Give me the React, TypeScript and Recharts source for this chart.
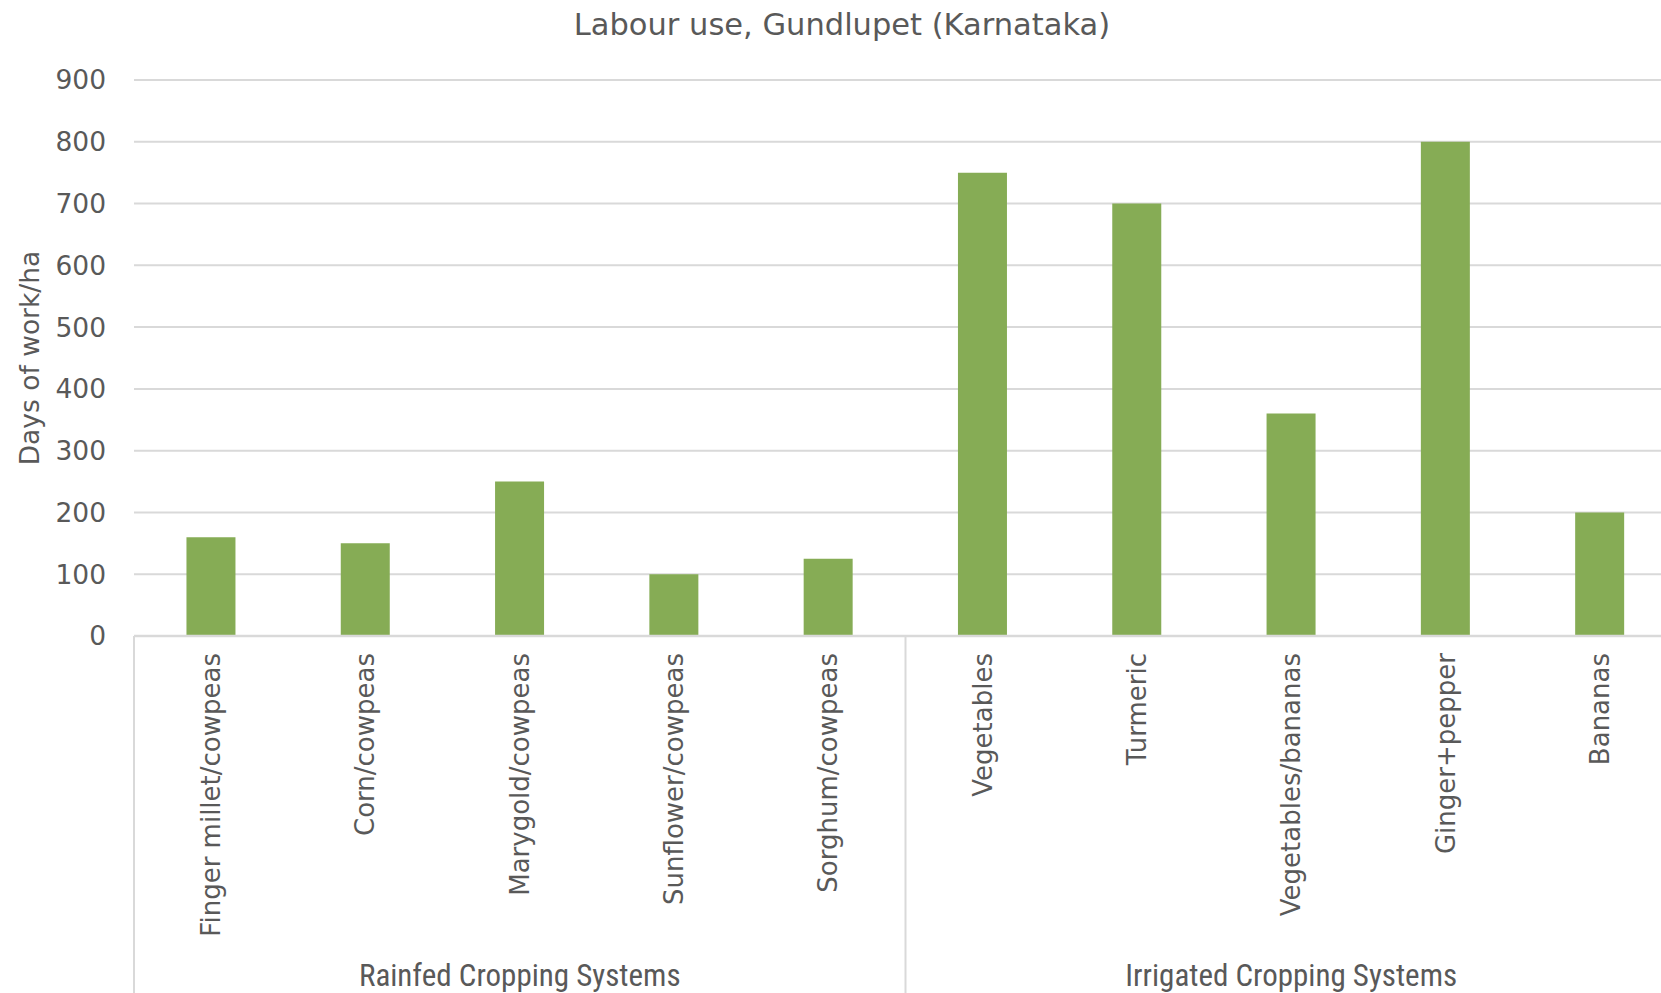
import React from "react";
import { BarChart, Bar, XAxis, YAxis, CartesianGrid } from "recharts";

const categories = [
  "Finger millet/cowpeas",
  "Corn/cowpeas",
  "Marygold/cowpeas",
  "Sunflower/cowpeas",
  "Sorghum/cowpeas",
  "Vegetables",
  "Turmeric",
  "Vegetables/bananas",
  "Ginger+pepper",
  "Bananas",
];
const labourDays = [160, 150, 250, 100, 125, 750, 700, 360, 800, 200];
const groupNames = ["Rainfed Cropping Systems", "Irrigated Cropping Systems"];
const groupStart = [0, 5];
const groupSize = [5, 5];
const yTicks = [0, 100, 200, 300, 400, 500, 600, 700, 800, 900];

const data = categories.map((c, i) => ({ name: c, value: labourDays[i] }));

const TEXT = "#595959";
const GRID = "#d9d9d9";
const FONT = "'DejaVu Sans', sans-serif";

const CHART_W = 1700;
const CHART_H = 993;

const CategoryTick = (props: any) => {
  const { x, y, payload, index } = props;
  const half = payload && payload.offset ? payload.offset : 77;
  const bottom = CHART_H;
  const els: any[] = [];
  const gi = groupStart.indexOf(index);
  if (gi >= 0) {
    els.push(
      <line key="sep" x1={x - half} y1={y} x2={x - half} y2={bottom} stroke={GRID} strokeWidth={2} />
    );
  }
  groupStart.forEach((s, g) => {
    const mid = s + Math.floor(groupSize[g] / 2);
    if (index === mid) {
      els.push(
        <text
          key="grp"
          x={x}
          y={986}
          textAnchor="middle"
          fill={TEXT}
          fontSize={31}
          fontFamily="'Liberation Sans Narrow', 'Roboto Condensed', 'Liberation Sans', sans-serif"
        >
          {groupNames[g]}
        </text>
      );
    }
  });
  els.push(
    <text
      key="lbl"
      transform={`translate(${x}, ${y + 17}) rotate(-90)`}
      textAnchor="end"
      dominantBaseline="central"
      fill={TEXT}
      fontSize={26}
      fontFamily={FONT}
    >
      {payload.value}
    </text>
  );
  return <g>{els}</g>;
};

export default function App() {
  return (
    <div
      style={{
        position: "absolute",
        left: 0,
        top: 0,
        width: 1661,
        height: 993,
        overflow: "hidden",
        background: "#fff",
      }}
    >
      <BarChart
        width={CHART_W}
        height={CHART_H}
        data={data}
        margin={{ top: 80, right: 23, left: 0, bottom: 0 }}
        barCategoryGap="34%"
      >
        <text
          x={842}
          y={24}
          textAnchor="middle"
          dominantBaseline="central"
          fill={TEXT}
          fontSize={30.5}
          fontFamily={FONT}
        >
          Labour use, Gundlupet (Karnataka)
        </text>
        <text
          transform="translate(29, 358) rotate(-90)"
          textAnchor="middle"
          dominantBaseline="central"
          fill={TEXT}
          fontSize={26.5}
          fontFamily={FONT}
        >
          Days of work/ha
        </text>
        <CartesianGrid vertical={false} stroke={GRID} strokeWidth={2} />
        <XAxis
          dataKey="name"
          interval={0}
          height={357}
          tickLine={false}
          tickSize={0}
          tickMargin={0}
          axisLine={{ stroke: GRID, strokeWidth: 2.5 }}
          tick={<CategoryTick />}
        />
        <YAxis
          width={134}
          domain={[0, 900]}
          ticks={yTicks}
          axisLine={false}
          tickLine={false}
          tickMargin={22}
          tick={{ fill: TEXT, fontSize: 26.5, fontFamily: FONT }}
        />
        <Bar dataKey="value" fill="#86ac55" isAnimationActive={false} />
      </BarChart>
    </div>
  );
}
